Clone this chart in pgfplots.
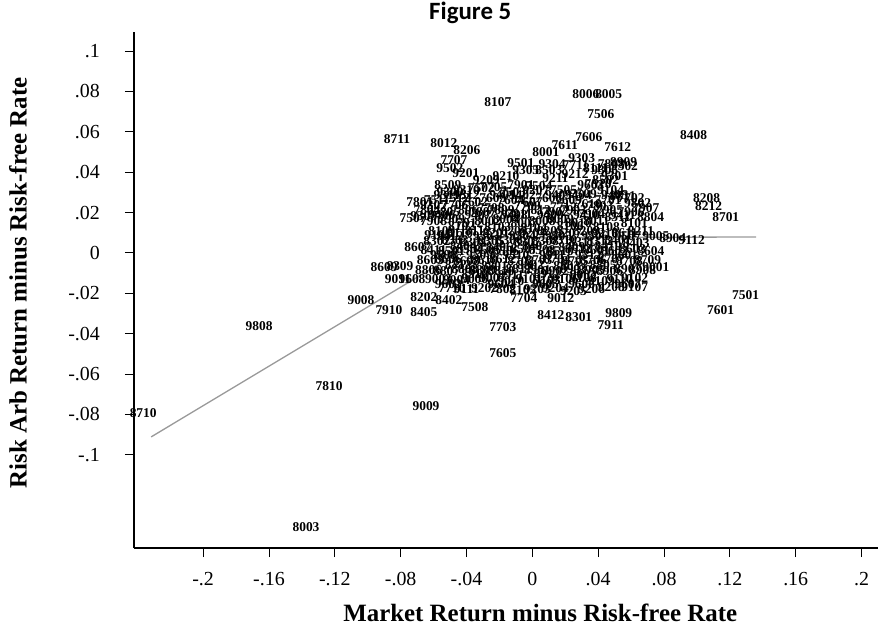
\documentclass[border=0pt]{standalone}
\usepackage{fontspec}
\setmainfont{Liberation Serif}
\newfontfamily\carlito{Carlito}
\usepackage{pgfplots}
\pgfplotsset{compat=1.18}
\usepackage{pgfplotstable}

\pgfplotstableread{
x y lab
-0.0209 0.0747 8107
0.0325 0.0787 8006
0.0464 0.0787 8005
0.0416 0.0688 7506
-0.0822 0.0564 8711
-0.0537 0.0544 8012
-0.0398 0.0510 8206
-0.0476 0.0460 7707
-0.0404 0.0396 9201
-0.0501 0.0420 9502
-0.0513 0.0336 8509
-0.0234 0.0326 7705
-0.0683 0.0252 7801
-0.0725 0.0173 7507
-0.0695 0.0030 8607
-0.0574 0.0089 9105
-0.0901 -0.0069 8609
-0.0804 -0.0064 8309
-0.0816 -0.0129 9011
-0.0731 -0.0129 9608
-0.1041 -0.0232 9008
-0.0871 -0.0282 7910
-0.0659 -0.0218 8202
-0.0659 -0.0292 8405
-0.0507 -0.0232 8402
-0.0489 -0.0173 7710
-0.0349 -0.0267 7508
-0.0179 -0.0366 7703
-0.0179 -0.0495 7605
-0.0052 -0.0223 7704
-0.0058 -0.0183 8105
-0.0179 -0.0178 7802
0.0173 -0.0223 9012
0.0112 -0.0307 8412
0.0282 -0.0317 8301
0.0525 -0.0297 9809
0.0476 -0.0356 7911
0.0622 -0.0124 9102
0.0622 -0.0168 9107
0.0750 -0.0069 9001
0.0750 0.0084 9005
0.0561 0.0099 8611
0.0719 0.0178 8804
0.0519 0.0178 8511
0.0640 0.0247 9802
0.0549 0.0282 8811
0.0853 0.0074 8904
0.0968 0.0064 9112
0.0980 0.0584 8408
0.1059 0.0272 8208
0.1071 0.0233 8212
0.1175 0.0178 8701
0.1296 -0.0208 7501
0.1144 -0.0282 7601
0.0519 0.0524 7612
0.0343 0.0574 7606
0.0197 0.0534 7611
0.0555 0.0450 8909
0.0480 0.0440 7808
-0.2364 -0.0791 8710
-0.1660 -0.0361 9808
-0.1235 -0.0658 7810
-0.0646 -0.0757 9009
-0.1375 -0.1356 8003
0.0082 0.0499 8001
-0.0070 0.0445 9501
0.0100 0.0411 8503
0.0264 0.0435 7711
0.0385 0.0420 8111
0.0446 0.0361 8502
-0.0070 0.0336 7901
0.0021 0.0312 9207
0.0355 0.0336 9603
0.0476 0.0312 9104
-0.031 0.032 7502
-0.012 0.030 7503
0.004 0.033 7504
0.019 0.031 7505
0.031 0.029 7509
0.040 0.034 7510
-0.058 0.026 7511
-0.046 0.027 7512
-0.035 0.025 7602
-0.024 0.027 7603
-0.013 0.026 7604
-0.002 0.025 7607
0.010 0.027 7608
0.022 0.026 7609
0.034 0.024 7610
0.046 0.026 7701
0.060 0.027 7702
-0.047 0.0235 7706
-0.025 0.022 7708
-0.003 0.023 7709
0.019 0.0225 7712
0.041 0.023 7803
-0.064 0.021 7804
-0.052 0.020 7805
-0.041 0.021 7806
-0.030 0.020 7807
-0.019 0.021 7809
-0.008 0.019 7811
0.003 0.021 7812
0.014 0.020 7902
0.025 0.021 7903
0.036 0.019 7904
0.047 0.021 7905
0.060 0.020 7906
0.069 0.022 7907
-0.060 0.016 7908
-0.049 0.017 7909
-0.038 0.015 7912
-0.027 0.016 8002
-0.016 0.017 8004
-0.005 0.015 8007
0.006 0.016 8008
0.017 0.017 8009
0.028 0.015 8010
0.039 0.016 8011
0.062 0.015 8101
-0.043 0.0135 8102
-0.021 0.013 8103
0.001 0.0125 8104
0.023 0.0135 8106
0.045 0.013 8108
-0.055 0.011 8109
-0.044 0.010 8110
-0.033 0.011 8112
-0.022 0.010 8201
-0.011 0.011 8203
0.000 0.010 8204
0.011 0.011 8205
0.022 0.010 8207
0.033 0.011 8209
0.044 0.010 8210
0.066 0.011 8211
-0.058 0.006 8302
-0.047 0.0065 8303
-0.036 0.0055 8304
-0.025 0.006 8305
-0.014 0.0065 8306
-0.003 0.0055 8307
0.008 0.006 8308
0.019 0.0065 8310
0.030 0.0055 8311
0.041 0.006 8312
0.052 0.0065 8401
0.063 0.005 8403
-0.042 0.0035 8404
-0.020 0.003 8406
0.002 0.0035 8407
0.024 0.003 8409
0.046 0.0035 8410
-0.060 0.0015 8411
-0.049 0.001 8501
-0.038 0.002 8504
-0.027 0.0015 8505
-0.016 0.001 8506
-0.005 0.002 8507
0.006 0.0015 8508
0.017 0.001 8510
0.028 0.002 8512
0.039 0.0015 8601
0.050 0.001 8602
0.061 0.002 8603
0.072 0.001 8604
-0.062 -0.0035 8605
-0.051 -0.003 8606
-0.040 -0.004 8608
-0.029 -0.0035 8610
-0.018 -0.003 8612
-0.007 -0.004 8702
0.004 -0.0035 8703
0.015 -0.003 8704
0.026 -0.004 8705
0.037 -0.0035 8706
0.048 -0.003 8707
0.059 -0.004 8708
0.070 -0.0035 8709
-0.045 -0.006 8712
-0.023 -0.0065 8801
-0.001 -0.006 8802
0.021 -0.0065 8803
0.043 -0.006 8805
-0.063 -0.0085 8806
-0.052 -0.009 8807
-0.041 -0.008 8808
-0.030 -0.0085 8809
-0.019 -0.009 8810
-0.008 -0.008 8812
0.003 -0.0085 8901
0.014 -0.009 8902
0.025 -0.008 8903
0.036 -0.0085 8905
0.047 -0.009 8906
0.058 -0.008 8907
0.067 -0.0085 8908
-0.035 -0.0105 8910
-0.013 -0.011 8911
0.009 -0.0105 8912
0.031 -0.011 9002
-0.057 -0.013 9003
-0.046 -0.0135 9004
-0.035 -0.013 9006
-0.024 -0.0125 9007
-0.013 -0.014 9010
-0.002 -0.013 9101
0.009 -0.0135 9103
0.020 -0.013 9106
0.031 -0.0125 9108
0.042 -0.014 9109
0.053 -0.013 9110
-0.040 -0.018 9111
-0.029 -0.0175 9202
0.003 -0.018 9203
0.014 -0.0175 9204
0.025 -0.019 9205
0.036 -0.018 9206
0.048 -0.017 9208
-0.028 0.036 9209
-0.016 0.038 9210
0.014 0.037 9211
0.026 0.039 9212
0.050 0.038 9301
0.056 0.043 9302
0.030 0.047 9303
0.012 0.044 9304
-0.004 0.041 9305
0.044 0.041 9306
-0.060 0.0235 9307
-0.066 0.018 9308
-0.050 0.030 9309
-0.040 0.031 9310
-0.052 0.0285 9311
-0.040 0.0285 9312
-0.018 0.0285 9401
-0.006 0.0285 9402
0.016 0.0285 9403
0.028 0.0285 9404
0.050 0.0285 9405
-0.055 0.0185 9406
-0.033 0.0185 9407
-0.011 0.0185 9408
0.011 0.0185 9409
0.033 0.0185 9410
0.055 0.0185 9411
-0.050 0.0085 9412
-0.028 0.0085 9503
-0.006 0.0085 9504
0.016 0.0085 9505
0.038 0.0085 9506
0.058 0.0085 9507
-0.054 -0.001 9508
-0.032 -0.001 9509
-0.010 -0.001 9510
0.012 -0.001 9511
0.034 -0.001 9512
0.056 -0.001 9601
-0.051 -0.0155 9602
-0.019 -0.0155 9604
0.008 -0.0155 9605
0.030 -0.0155 9606
0.058 -0.0155 9607
}\pts

\begin{document}
\begin{tikzpicture}
\begin{axis}[
  scale only axis, width=744bp, height=516bp,
  xmin=-0.242, xmax=0.21, ymin=-0.1461, ymax=0.1094,
  axis x line*=bottom, axis y line*=left,
  axis line style={black, line width=1.1bp},
  tick align=outside, major tick length=9bp,
  tick style={black, line width=0.9bp},
  xtick={-0.2,-0.16,-0.12,-0.08,-0.04,0,0.04,0.08,0.12,0.16,0.2},
  xticklabels={-.2,-.16,-.12,-.08,-.04,0,.04,.08,.12,.16,.2},
  ytick={-0.1,-0.08,-0.06,-0.04,-0.02,0,0.02,0.04,0.06,0.08,0.1},
  yticklabels={-.1,-.08,-.06,-.04,-.02,0,.02,.04,.06,.08,.1},
  tick label style={font=\fontsize{20}{20}\selectfont, inner sep=0pt},
  xticklabel style={anchor=base, yshift=-28bp},
  yticklabel style={anchor=east, xshift=-25bp},
  xlabel={Market Return minus Risk-free Rate},
  xlabel style={at={(axis description cs:0.546,-0.143)}, anchor=base, font=\bfseries\fontsize{25}{25}\selectfont, inner sep=0pt},
  ylabel={Risk Arb Return minus Risk-free Rate},
  ylabel style={at={(axis description cs:-0.156,0.514)}, anchor=center, rotate=0, font=\bfseries\fontsize{25}{25}\selectfont, inner sep=0pt},
  clip=false,
]
\addplot[color=black!40, line width=1.3bp, mark=none] coordinates {(-0.2316,-0.0911) (-0.03,0.0075) (0.136,0.0079)};
\addplot[draw=none, mark=none, nodes near coords, point meta=explicit symbolic,
  nodes near coords style={anchor=center, font=\bfseries\fontsize{13.5}{13.5}\selectfont, inner sep=0pt, text=black}]
  table[x=x, y=y, meta=lab]{\pts};
\node[font=\carlito\bfseries\fontsize{25}{25}\selectfont, anchor=base] at (axis description cs:0.452,1.025) {Figure 5};
\end{axis}
\pgfresetboundingbox
\path[use as bounding box] (-134bp,-81bp) rectangle (744bp,548bp);
\end{tikzpicture}
\end{document}
